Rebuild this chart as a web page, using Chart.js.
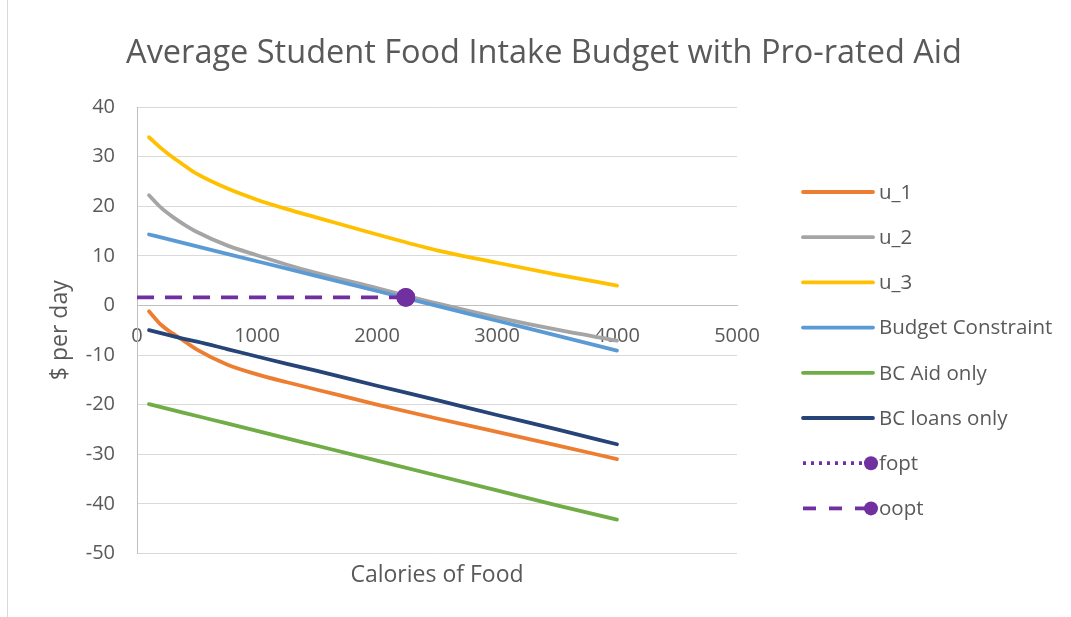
<!DOCTYPE html>
<html>
<head>
<meta charset="utf-8">
<script src="https://cdn.jsdelivr.net/npm/chart.js@4.4.0/dist/chart.umd.min.js"></script>
<style>
    html, body { margin: 0; padding: 0; background: #fff; }
    #wrap { position: relative; width: 1071px; height: 617px; }
    #edge { position: absolute; left: 7px; top: 0; width: 1px; height: 617px; background: #d9d9d9; }
</style>
</head>
<body>
<div id="wrap">
    <canvas id="foodChart" width="1071" height="617"></canvas>
    <div id="edge"></div>
</div>
<script>
// x values (calories) shared by the curves
const calories = [100, 200, 300, 400, 500, 750, 1000, 1250, 1500, 2000, 2500, 3000, 3500, 4000];

const u1 = [-1.2, -3.9, -5.7, -7.3, -8.9, -11.9, -13.9, -15.5, -17.0, -20.0, -22.8, -25.5, -28.2, -31.0];
const u2 = [22.2, 19.7, 17.8, 16.2, 14.8, 12.1, 10.1, 8.2, 6.5, 3.5, 0.4, -2.4, -4.9, -7.1];
const u3 = [33.9, 31.7, 29.8, 28.1, 26.5, 23.6, 21.3, 19.4, 17.7, 14.3, 11.1, 8.6, 6.2, 4.0];
const budget = [14.3, 13.7, 13.1, 12.5, 11.9, 10.4, 8.9, 7.4, 5.9, 2.9, -0.1, -3.1, -6.1, -9.1];
const aidOnly = [-19.9, -20.5, -21.1, -21.7, -22.3, -23.8, -25.3, -26.8, -28.3, -31.3, -34.3, -37.3, -40.3, -43.2];
const loansOnly = [-5.0, -5.6, -6.2, -6.8, -7.3, -8.8, -10.3, -11.8, -13.2, -16.2, -19.1, -22.1, -25.0, -28.0];

// optimum point
const foptX = [2240, 2240];
const foptY = [0, 1.6];
const ooptX = [0, 2240];
const ooptY = [1.6, 1.6];

const xTicks = [0, 1000, 2000, 3000, 4000, 5000];
const yTicks = [-50, -40, -30, -20, -10, 0, 10, 20, 30, 40];

const chartTitle = "Average Student Food Intake Budget with Pro-rated Aid";
const textColor = "#595959";

function pairs(xs, ys) {
    return xs.map((x, i) => ({ x: x, y: ys[i] }));
}

function curve(label, ys, color, idx) {
    return {
        label: label,
        data: pairs(calories, ys),
        borderColor: color,
        backgroundColor: color,
        borderWidth: 3.8,
        borderCapStyle: "round",
        pointRadius: 0,
        pointHoverRadius: 0,
        cubicInterpolationMode: "monotone",
        order: 10 - idx,
        legendMarker: false
    };
}

// title + legend drawn like the Excel chart
const excelBits = {
    id: "excelBits",
    afterDraw(chart) {
        const ctx = chart.ctx;
        ctx.save();
        ctx.fillStyle = textColor;
        ctx.font = "32.5px 'Open Sans'";
        ctx.textAlign = "center";
        ctx.textBaseline = "middle";
        ctx.fillText(chartTitle, 544, 54);

        const left = 803, lineLen = 70, textX = 879;
        let y = 192;
        ctx.font = "20.5px 'Open Sans'";
        ctx.textAlign = "left";
        chart.data.datasets.forEach(ds => {
            ctx.strokeStyle = ds.borderColor;
            ctx.lineWidth = 3.8;
            ctx.lineCap = ds.legendDash ? "butt" : "round";
            ctx.setLineDash(ds.legendDash || []);
            ctx.beginPath();
            ctx.moveTo(left, y);
            ctx.lineTo(left + lineLen - (ds.legendMarker ? 6 : 0), y);
            ctx.stroke();
            ctx.setLineDash([]);
            if (ds.legendMarker) {
                ctx.fillStyle = ds.borderColor;
                ctx.beginPath();
                ctx.arc(left + lineLen - 2, y, 7, 0, Math.PI * 2);
                ctx.fill();
            }
            ctx.fillStyle = textColor;
            ctx.fillText(ds.label, textX, y + 1);
            y += 45.2;
        });
        ctx.restore();
    }
};

const foodChart = new Chart(document.getElementById("foodChart"), {
    type: "line",
    data: {
        datasets: [
            curve("u_1", u1, "#ED7D31", 0),
            curve("u_2", u2, "#A5A5A5", 1),
            curve("u_3", u3, "#FFC000", 2),
            curve("Budget Constraint", budget, "#5B9BD5", 3),
            curve("BC Aid only", aidOnly, "#70AD47", 4),
            curve("BC loans only", loansOnly, "#264478", 5),
            {
                label: "fopt",
                data: pairs(foptX, foptY),
                borderColor: "#7030A0",
                backgroundColor: "#7030A0",
                borderWidth: 3.8,
                borderDash: [3, 5],
                legendDash: [3, 5],
                pointRadius: [0, 7.5],
                pointHoverRadius: 0,
                order: 4,
                legendMarker: true
            },
            {
                label: "oopt",
                data: pairs(ooptX, ooptY),
                borderColor: "#7030A0",
                backgroundColor: "#7030A0",
                borderWidth: 3.8,
                borderDash: [17, 11],
                legendDash: [13, 13],
                pointRadius: [0, 7.5],
                pointHoverRadius: 0,
                order: 3,
                legendMarker: true
            }
        ]
    },
    options: {
        responsive: false,
        animation: false,
        layout: {
            padding: { left: 8, right: 334, top: 107, bottom: 28 }
        },
        plugins: {
            legend: { display: false },
            tooltip: { enabled: false },
            title: { display: false }
        },
        scales: {
            x: {
                type: "linear",
                position: { y: 0 },
                min: 0,
                max: 5000,
                afterBuildTicks: s => { s.ticks = xTicks.map(v => ({ value: v })); },
                ticks: {
                    color: textColor,
                    font: { family: "'Open Sans'", size: 20 },
                    padding: 19,
                    maxRotation: 0,
                    callback: v => String(v)
                },
                grid: { display: false, drawTicks: false },
                border: { color: "#bfbfbf", width: 1 }
            },
            x2: {
                type: "linear",
                position: "bottom",
                min: 0,
                max: 5000,
                ticks: { display: false },
                grid: { display: false, drawTicks: false },
                border: { display: false },
                title: {
                    display: true,
                    text: "Calories of Food",
                    color: textColor,
                    font: { family: "'Open Sans'", size: 23 },
                    padding: { top: 8, bottom: 0 }
                }
            },
            y: {
                min: -50,
                max: 40,
                afterBuildTicks: s => { s.ticks = yTicks.map(v => ({ value: v })); },
                afterFit: s => { s.width = 129; },
                ticks: {
                    color: textColor,
                    font: { family: "'Open Sans'", size: 20 },
                    padding: 22,
                    callback: v => String(v)
                },
                grid: { color: "#d9d9d9", lineWidth: 1, drawTicks: false },
                border: { color: "#bfbfbf", width: 1 },
                title: {
                    display: true,
                    text: "$ per day",
                    color: textColor,
                    font: { family: "'Open Sans'", size: 23 },
                    padding: { top: 39, bottom: 0 }
                }
            }
        }
    },
    plugins: [excelBits]
});
</script>
</body>
</html>
